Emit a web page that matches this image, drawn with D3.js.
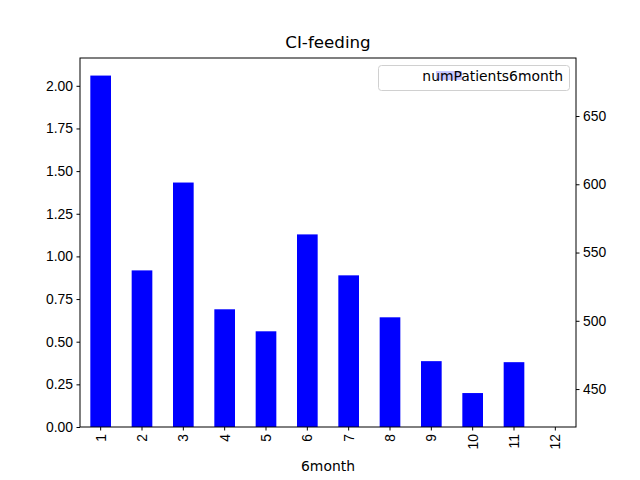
<!DOCTYPE html>
<html>
<head>
<meta charset="utf-8">
<script src="https://cdn.jsdelivr.net/npm/d3@7"></script>
<style>
  body { margin: 0; background: #fff; }
  svg { display: block; font-family: "DejaVu Sans", sans-serif; }
  .axis path, .axis line { stroke: #000; stroke-width: 1; }
  .axis text { fill: #000; font-size: 13.9px; }
</style>
</head>
<body>
<svg id="chart" width="640" height="480"></svg>
<script>
/* ── Data ──────────────────────────────────────────────────────────────── */
const MONTHS   = ['1','2','3','4','5','6','7','8','9','10','11','12'];
const VALUES   = [2.06, 0.918, 1.433, 0.69, 0.561, 1.129, 0.889, 0.643, 0.386, 0.199, 0.38, 0];
const LEFT_TICKS  = [0, 0.25, 0.5, 0.75, 1.0, 1.25, 1.5, 1.75, 2.0];
const RIGHT_TICKS = [450, 500, 550, 600, 650];
const RIGHT_DOMAIN = [422.2, 692.5];

/* ── Layout ────────────────────────────────────────────────────────────── */
const M = { l: 80, r: 576, t: 58, b: 427 };
const svg = d3.select('#chart');

const x = d3.scaleBand().domain(MONTHS).range([M.l, M.r]).paddingInner(0.5).paddingOuter(0.25);
const y = d3.scaleLinear().domain([0, d3.max(VALUES) * 1.05]).range([M.b, M.t]);
const y2 = d3.scaleLinear().domain(RIGHT_DOMAIN).range([M.b, M.t]);

/* ── Bars ──────────────────────────────────────────────────────────────── */
svg.append('g').selectAll('rect').data(VALUES).join('rect')
  .attr('x', (d, i) => x(MONTHS[i]))
  .attr('width', x.bandwidth())
  .attr('y', d => y(d))
  .attr('height', d => M.b - y(d))
  .attr('fill', '#0000ff');

/* ── Axes ──────────────────────────────────────────────────────────────── */
const ax = svg.append('g').attr('class', 'axis').attr('transform', `translate(0,${M.b})`)
  .call(d3.axisBottom(x).tickSize(3.5).tickPadding(3.5).tickSizeOuter(0));
ax.select('.domain').remove();
ax.selectAll('text')
  .attr('transform', 'rotate(-90)')
  .attr('text-anchor', 'end')
  .attr('dy', '0.35em')
  .attr('x', -7)
  .attr('y', 0);

const ayl = svg.append('g').attr('class', 'axis').attr('transform', `translate(${M.l},0)`)
  .call(d3.axisLeft(y).tickValues(LEFT_TICKS).tickFormat(d3.format('.2f')).tickSize(3.5).tickPadding(3.5));
ayl.select('.domain').remove();

const ayr = svg.append('g').attr('class', 'axis').attr('transform', `translate(${M.r},0)`)
  .call(d3.axisRight(y2).tickValues(RIGHT_TICKS).tickSize(3.5).tickPadding(3.5));
ayr.select('.domain').remove();

// frame
svg.append('rect')
  .attr('x', M.l).attr('y', M.t)
  .attr('width', M.r - M.l).attr('height', M.b - M.t)
  .attr('fill', 'none').attr('stroke', '#000').attr('stroke-width', 1);

/* ── Text ──────────────────────────────────────────────────────────────── */
svg.append('text')
  .attr('x', (M.l + M.r) / 2).attr('y', 48)
  .attr('text-anchor', 'middle').attr('font-size', '16.7px')
  .text('CI-feeding');

svg.append('text')
  .attr('x', (M.l + M.r) / 2).attr('y', 471)
  .attr('text-anchor', 'middle').attr('font-size', '13.9px')
  .text('6month');

/* ── Legend ────────────────────────────────────────────────────────────── */
const lg = svg.append('g');
lg.append('rect')
  .attr('x', 378.5).attr('y', 65.5).attr('width', 191).attr('height', 25)
  .attr('rx', 3).attr('fill', '#fff').attr('fill-opacity', 0.8)
  .attr('stroke', '#d0d0d0');
lg.append('rect')
  .attr('x', 436).attr('y', 71).attr('width', 26).attr('height', 9)
  .attr('fill', '#0000ff').attr('fill-opacity', 0.22);
lg.append('text')
  .attr('x', 563).attr('y', 81)
  .attr('text-anchor', 'end').attr('font-size', '13.9px')
  .text('numPatients6month');
</script>
</body>
</html>
